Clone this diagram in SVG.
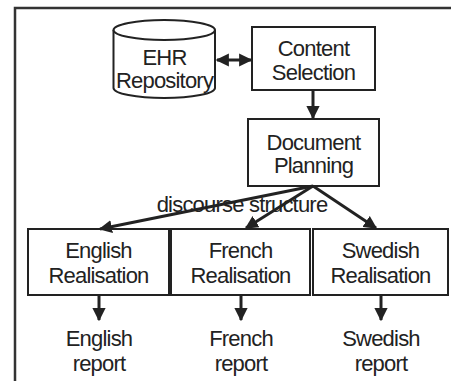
<svg xmlns="http://www.w3.org/2000/svg" width="451" height="381" viewBox="0 0 451 381">
<defs>
<style>
.box{fill:#fff;stroke:#222;stroke-width:2}
.t{font-family:"Liberation Sans",Arial,sans-serif;font-size:22px;letter-spacing:-0.8px;fill:#222;text-anchor:middle}
.c{stroke:#222;stroke-width:3;fill:none}
</style>
<marker id="ah" viewBox="0 0 10 10" refX="9" refY="5" markerWidth="4.4" markerHeight="4.4" orient="auto-start-reverse" markerUnits="strokeWidth">
<path d="M0,0 L10,5 L0,10 z" fill="#222"/>
</marker>
</defs>
<rect width="451" height="381" fill="#fff"/>
<path d="M15,381 V8 H451" stroke="#333" stroke-width="2.5" fill="none"/>
<g id="ehr">
<path class="box" d="M113.5,30 V88 A50.75,10 0 0 0 215,88 V30"/>
<ellipse class="box" cx="164.25" cy="30" rx="50.75" ry="10"/>
<text class="t" x="164.5" y="65">EHR</text>
<text class="t" x="164.5" y="88">Repository</text>
</g>
<g id="content">
<rect class="box" x="252" y="27" width="123" height="63"/>
<text class="t" x="313.5" y="56">Content</text>
<text class="t" x="313.5" y="80">Selection</text>
</g>
<g id="docplan">
<rect class="box" x="248" y="119" width="131" height="67"/>
<text class="t" x="313.5" y="150">Document</text>
<text class="t" x="313.5" y="173">Planning</text>
</g>
<g id="english">
<rect class="box" x="28" y="229" width="141" height="66"/>
<text class="t" x="98.5" y="258">English</text>
<text class="t" x="98.5" y="283">Realisation</text>
</g>
<g id="french">
<rect class="box" x="171" y="229" width="139" height="66"/>
<text class="t" x="240.5" y="258">French</text>
<text class="t" x="240.5" y="283">Realisation</text>
</g>
<g id="swedish">
<rect class="box" x="313" y="229" width="135" height="66"/>
<text class="t" x="380.5" y="258">Swedish</text>
<text class="t" x="380.5" y="283">Realisation</text>
</g>
<g id="reports">
<text class="t" x="99" y="346">English</text>
<text class="t" x="99" y="371">report</text>
<text class="t" x="241" y="346">French</text>
<text class="t" x="241" y="371">report</text>
<text class="t" x="381" y="346">Swedish</text>
<text class="t" x="381" y="371">report</text>
</g>
<g id="connectors">
<line class="c" x1="217" y1="60" x2="251" y2="60" marker-start="url(#ah)" marker-end="url(#ah)"/>
<line class="c" x1="313" y1="91" x2="313" y2="118" marker-end="url(#ah)"/>
<line class="c" x1="313" y1="186" x2="100" y2="229" marker-end="url(#ah)"/>
<line class="c" x1="313" y1="186" x2="246" y2="228" marker-end="url(#ah)"/>
<line class="c" x1="313" y1="186" x2="376" y2="228" marker-end="url(#ah)"/>
<line class="c" x1="99" y1="296" x2="99" y2="320" marker-end="url(#ah)"/>
<line class="c" x1="241" y1="296" x2="241" y2="320" marker-end="url(#ah)"/>
<line class="c" x1="381" y1="296" x2="381" y2="320" marker-end="url(#ah)"/>
<text class="t" x="242" y="212">discourse structure</text>
</g>
</svg>
